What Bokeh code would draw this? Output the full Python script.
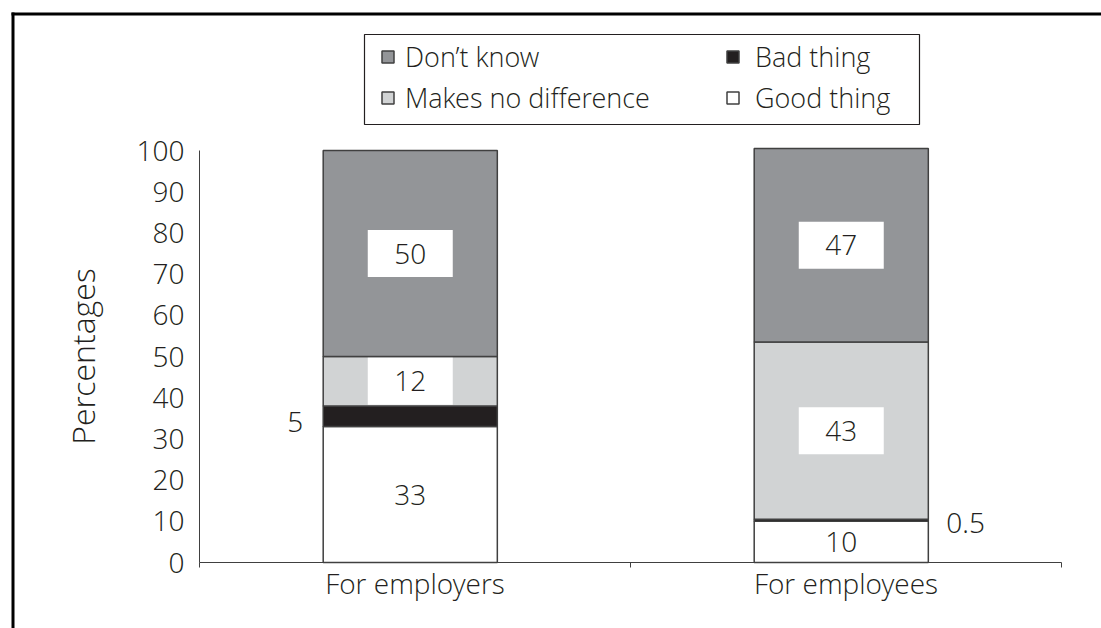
from bokeh.plotting import figure
from bokeh.models import (ColumnDataSource, FixedTicker, Legend, LegendItem,
                          BoxAnnotation, Range1d, LinearAxis)
from bokeh.transform import dodge
from bokeh.core.properties import value
from bokeh.embed import file_html
from bokeh.resources import INLINE

# ---------------- data ----------------
categories = ["For employers", "For employees"]
series = ["Good thing", "Bad thing", "Makes no difference", "Don't know"]  # bottom -> top
legend_names = {"Good thing": "Good thing", "Bad thing": "Bad thing",
                "Makes no difference": "Makes no difference", "Don't know": "Don\u2019t know"}
good_thing = [33, 10]
bad_thing = [5, 0.5]
no_difference = [12, 43]
dont_know = [50, 47]
y_ticks = [0, 10, 20, 30, 40, 50, 60, 70, 80, 90, 100]
y_label = "Percentages"

colors = {"Good thing": "#ffffff", "Bad thing": "#231f20",
          "Makes no difference": "#d1d3d4", "Don't know": "#939598"}

FONT = "'Open Sans Light', 'Open Sans'"
TXT = "#231f20"
EDGE = "#404040"
FS = "28px"

W, H = 1101, 628
# plot area placement in pixels (axis origin and extent)
X0, X1, Y0, Y100 = 199, 1061, 562, 150
ncat = len(categories)
sx = (X1 - X0) / ncat
sy = (Y0 - Y100) / 100.0
SHIFT = -0.011  # bars sit slightly left of the category centre

xs = [i + 0.5 for i in range(ncat)]
values = {"Good thing": good_thing, "Bad thing": bad_thing,
          "Makes no difference": no_difference, "Don't know": dont_know}
data = {"x": xs}
data.update(values)
src = ColumnDataSource(data)

p = figure(width=W, height=H, output_backend="svg", toolbar_location=None,
           x_range=Range1d(-X0 / sx, ncat + (W - X1) / sx),
           y_range=Range1d(-(H - Y0) / sy, Y0 / sy),
           x_axis_type=None, y_axis_type=None,
           min_border=0, min_border_left=0, min_border_right=0,
           min_border_top=0, min_border_bottom=0)
p.outline_line_color = None
p.background_fill_color = "white"
p.border_fill_color = "white"
p.grid.visible = False

# outer frame of the figure (top and left edges visible)
p.add_layout(BoxAnnotation(left=11, right=W + 50, top=12, bottom=15,
                           left_units="canvas", right_units="canvas",
                           top_units="canvas", bottom_units="canvas",
                           fill_color="black", fill_alpha=1.0, line_color=None,
                           level="underlay"))
p.add_layout(BoxAnnotation(left=11, right=14, top=12, bottom=H + 50,
                           left_units="canvas", right_units="canvas",
                           top_units="canvas", bottom_units="canvas",
                           fill_color="black", fill_alpha=1.0, line_color=None,
                           level="underlay"))

BAR_W = 0.404
renderers = p.vbar_stack(series, x=dodge("x", SHIFT, range=p.x_range), width=BAR_W,
                         source=src, fill_color=[colors[s] for s in series],
                         line_color=EDGE, line_width=1.5)
rmap = dict(zip(series, renderers))

# ---------------- axes (fixed inside the frame) ----------------
xa = LinearAxis(fixed_location=0)
xa.bounds = (0, ncat)
xa.ticker = FixedTicker(ticks=xs, minor_ticks=list(range(ncat + 1)))
xa.major_label_overrides = {x: c for x, c in zip(xs, categories)}
xa.major_tick_line_color = None
xa.major_tick_out = 0
xa.major_tick_in = 0
xa.minor_tick_out = 5
xa.minor_tick_in = 0
xa.minor_tick_line_color = EDGE
xa.axis_line_color = EDGE
xa.major_label_text_font = FONT
xa.major_label_text_font_size = FS
xa.major_label_text_color = TXT
xa.major_label_standoff = -4
p.add_layout(xa, "below")

ya = LinearAxis(fixed_location=0)
ya.ticker = FixedTicker(ticks=y_ticks)
ya.bounds = (0, 100)
ya.major_tick_line_color = None
ya.minor_tick_line_color = None
ya.major_tick_out = 0
ya.major_tick_in = 0
ya.axis_line_color = EDGE
ya.major_label_text_font = FONT
ya.major_label_text_font_size = FS
ya.major_label_text_color = TXT
ya.major_label_standoff = 15
ya.axis_label = y_label
ya.axis_label_text_font = FONT
ya.axis_label_text_font_size = "32px"
ya.axis_label_text_font_style = "normal"
ya.axis_label_text_color = TXT
ya.axis_label_standoff = 30
p.add_layout(ya, "left")

# ---------------- value labels ----------------
box_x, box_y = [], []
in_x, in_y, in_t = [], [], []
for i, x in enumerate(xs):
    base = 0.0
    for s in series:
        v = values[s][i]
        mid = base + v / 2.0
        base += v
        if s == "Bad thing":
            continue
        in_x.append(x + SHIFT); in_y.append(mid); in_t.append(f"{v:g}")
        if s in ("Makes no difference", "Don't know"):
            box_x.append(x + SHIFT); box_y.append(mid)

p.rect(x=box_x, y=box_y, width=85, height=47, width_units="screen",
       height_units="screen", fill_color="white", line_color=None)
p.text(x=in_x, y=in_y, text=in_t, text_font=value(FONT), text_font_size=FS,
       text_color=TXT, text_align="center", text_baseline="middle")

# Bad thing labels sit outside the bars
bad_mid = [good_thing[i] + bad_thing[i] / 2.0 for i in range(ncat)]
p.text(x=[xs[0] + SHIFT - BAR_W / 2], y=[bad_mid[0]], text=[f"{bad_thing[0]:g}"],
       x_offset=-20, y_offset=6, text_font=value(FONT), text_font_size=FS,
       text_color=TXT, text_align="right", text_baseline="middle")
p.text(x=[xs[1] + SHIFT + BAR_W / 2], y=[bad_mid[1]], text=[f"{bad_thing[1]:g}"],
       x_offset=18, y_offset=3, text_font=value(FONT), text_font_size=FS,
       text_color=TXT, text_align="left", text_baseline="middle")

# ---------------- legend ----------------
p.add_layout(BoxAnnotation(left=364, right=919, top=34, bottom=124,
                           left_units="canvas", right_units="canvas",
                           top_units="canvas", bottom_units="canvas",
                           fill_color="white", fill_alpha=1.0,
                           line_color=TXT, line_alpha=1.0, line_width=1.2))
common = dict(orientation="vertical", glyph_width=15, glyph_height=15,
              label_text_font=FONT, label_text_font_size="27px",
              label_text_color=TXT, padding=0, spacing=4, margin=0,
              border_line_color=None, background_fill_alpha=0.0)
legA = Legend(items=[LegendItem(label=legend_names[s], renderers=[rmap[s]])
                     for s in ["Don't know", "Makes no difference"]],
              location=(380, H - 116), label_standoff=10, **common)
legB = Legend(items=[LegendItem(label=legend_names[s], renderers=[rmap[s]])
                     for s in ["Bad thing", "Good thing"]],
              location=(725, H - 116), label_standoff=15, **common)
p.add_layout(legA, "center")
p.add_layout(legB, "center")

open("out.html", "w").write(file_html(p, INLINE))
